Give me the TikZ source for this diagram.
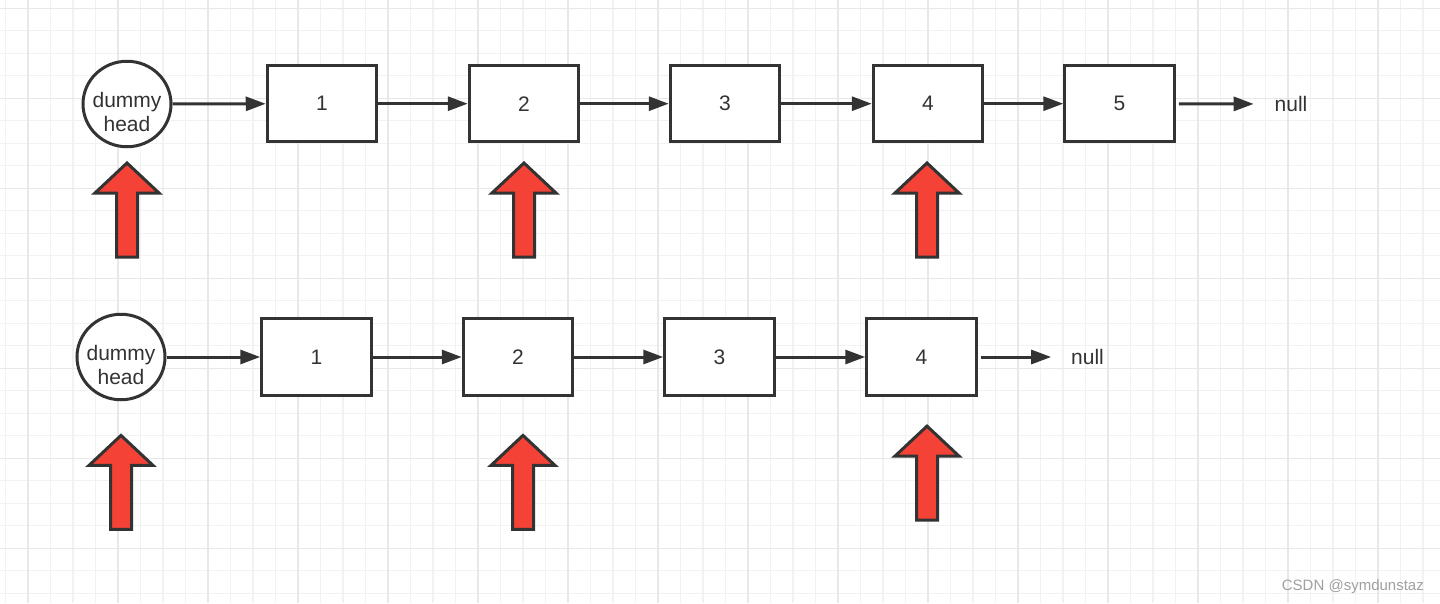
\documentclass[tikz,border=0pt]{standalone}
\usepackage{fontspec}
\setmainfont{Liberation Sans}
\usetikzlibrary{arrows.meta,shapes.geometric}
\definecolor{ink}{HTML}{333333}
\definecolor{redfill}{HTML}{F44336}
\definecolor{gridminor}{HTML}{F2F2F2}
\definecolor{gridmajor}{HTML}{E8E8E8}
\definecolor{wm}{HTML}{A0A0A0}
\tikzset{
  listbox/.style={draw=ink, line width=3pt, fill=white, minimum width=109.5pt, minimum height=76.5pt,
    inner sep=0pt, font=\fontsize{21}{24}\selectfont, text=ink},
  headnode/.style={draw=ink, line width=3pt, fill=white, ellipse, inner sep=0pt,
    minimum width=88pt, minimum height=85.5pt},
  headtext/.style={anchor=base, inner sep=0pt, font=\fontsize{21}{24}\selectfont, text=ink},
  nulltext/.style={inner ysep=0pt, inner xsep=21pt, outer sep=0pt, font=\fontsize{21}{24}\selectfont, text=ink},
  link/.style={draw=ink, line width=3pt, -{Triangle[length=20pt,width=14pt]}},
  uparrowshape/.pic={
    \draw[ink, line width=3pt, fill=redfill, line join=miter]
      (0,0) -- (32,30) -- (10.5,30) -- (10.5,94) -- (-10.5,94) -- (-10.5,30) -- (-32,30) -- cycle;
  }
}
\begin{document}
\begin{tikzpicture}[x=1pt,y=-1pt]
\path[use as bounding box, fill=white] (0,0) rectangle (1440,603);
% grid
\foreach \j in {0,...,63} \draw[gridminor, line width=1.3pt] ({5.5+22.5*\j},0) -- ++(0,603);
\foreach \j in {0,...,26} \draw[gridminor, line width=1.3pt] (0,{8.3+22.5*\j}) -- ++(1440,0);
\foreach \j in {0,...,15} \draw[gridmajor, line width=1.3pt] ({28+90*\j},0) -- ++(0,603);
\foreach \j in {0,...,6} \draw[gridmajor, line width=1.3pt] (0,{8.3+90*\j}) -- ++(1440,0);

% row 1
\node[headnode] (dh1) at (127,104) {};
\node[headtext] (dh1t) at ([yshift=-3pt]dh1.center) {\begin{tabular}[t]{@{}c@{}}dummy\\head\end{tabular}};
\node[listbox] (a1) at (322,103.7) {1};
\node[listbox] (a2) at (524,103.7) {2};
\node[listbox] (a3) at (725,103.7) {3};
\node[listbox] (a4) at (928,103.7) {4};
\node[listbox] (a5) at (1119.5,103.7) {5};
\node[nulltext] (an) at (1291,104) {null};
\draw[link] (dh1) -- (a1);
\draw[link] (a1) -- (a2);
\draw[link] (a2) -- (a3);
\draw[link] (a3) -- (a4);
\draw[link] (a4) -- (a5);
\draw[link, shorten <=3pt] (a5) -- (an);

% row 2
\node[headnode] (dh2) at (121,357) {};
\node[headtext] (dh2t) at ([yshift=-3pt]dh2.center) {\begin{tabular}[t]{@{}c@{}}dummy\\head\end{tabular}};
\node[listbox] (b1) at (316.5,357) {1};
\node[listbox] (b2) at (518,357) {2};
\node[listbox] (b3) at (719.5,357) {3};
\node[listbox] (b4) at (921.5,357) {4};
\node[nulltext, inner xsep=20pt] (bn) at (1087.5,357) {null};
\draw[link] (dh2) -- (b1);
\draw[link] (b1) -- (b2);
\draw[link] (b2) -- (b3);
\draw[link] (b3) -- (b4);
\draw[link, shorten <=3pt] (b4) -- (bn);

% red pointer arrows
\pic at (127,163) {uparrowshape};
\pic at (524,163) {uparrowshape};
\pic at (927,163) {uparrowshape};
\pic at (121,435.4) {uparrowshape};
\pic at (523,435.4) {uparrowshape};
\pic at (927,426.1) {uparrowshape};

% watermark
\node[anchor=base east, inner sep=0pt, font=\fontsize{15}{18}\selectfont, text=wm] (wmk) at (1424,590.7) {CSDN @symdunstaz};
\end{tikzpicture}
\end{document}
